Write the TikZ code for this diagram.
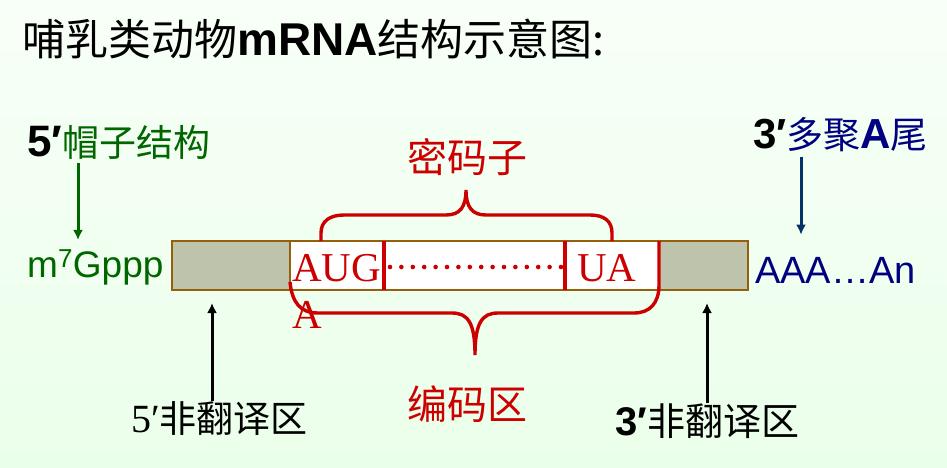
\documentclass[tikz,border=0pt]{standalone}
\usepackage{fontspec}
\setmainfont{Liberation Serif}
\setsansfont{Liberation Sans}
\newfontfamily\cjk{Noto Sans CJK SC}
\usetikzlibrary{arrows.meta, positioning, calc}
\definecolor{capgreen}{RGB}{0,102,0}
\definecolor{tailnavy}{RGB}{0,0,128}
\definecolor{tailarrow}{RGB}{0,51,102}
\definecolor{codred}{RGB}{204,0,0}
\definecolor{barbrown}{RGB}{150,95,10}
\definecolor{utrfill}{RGB}{190,196,172}
\definecolor{bgtop}{RGB}{248,255,248}
\definecolor{bgbottom}{RGB}{234,255,234}
\newcommand{\cnsize}[1]{\cjk\fontsize{#1}{#1}\selectfont}
\newcommand{\lasize}[1]{\fontsize{#1}{#1}\selectfont}

\begin{document}
\begin{tikzpicture}[x=1pt, y=-1pt,
    lbl/.style={inner sep=0pt, anchor=base west},
    barpart/.style={draw=barbrown, line width=2.5pt, minimum height=49pt,
                    inner sep=0pt, outer sep=0pt},
    brace/.style={draw=codred, line width=3.4pt},
    pointer/.style={line width=3pt, -{Latex[length=10pt, width=10pt]}}]
  % background
  \shade[top color=bgtop, bottom color=bgbottom] (0,0) rectangle (947,468);
  \useasboundingbox (0,0) rectangle (947,468);

  % title
  \node[lbl] (title) at (22,56)
    {\cnsize{43}哺乳类动物{\sffamily\bfseries\lasize{46}mRNA}结构示意图:};

  % mRNA bar
  \node[barpart, fill=utrfill, minimum width=118pt] (utr5) at (231,265.5) {};
  \node[barpart, fill=white, minimum width=369pt, right=0pt of utr5] (cds) {};
  \node[barpart, fill=utrfill, minimum width=89pt, right=0pt of cds] (utr3) {};

  % codon cuts
  \coordinate (startcut) at (384,0);
  \coordinate (stopcut) at (565,0);
  \draw[codred, line width=3.4pt] (cds.north -| startcut) -- (cds.south -| startcut);
  \draw[codred, line width=3.4pt] (cds.north -| stopcut) -- (cds.south -| stopcut);
  \draw[codred, line width=4.6pt, line cap=round, dash pattern=on 0pt off 11.4pt]
    (390,267) -- (562,267);

  \node[lbl, text=codred, font=\lasize{41}] (aug) at (292,281) {AUG};
  \node[lbl, text=codred, font=\lasize{41}] (ua) at (577,281) {UA};
  \node[lbl, text=codred, font=\lasize{41}] (augtail) at (292,328) {A};

  % braces
  \draw[brace] (321,241) -- (321,233) .. controls (321,221) and (330,215) .. (344,215)
    -- (446,215) .. controls (460,215) and (466,207) .. (466,190)
    .. controls (466,207) and (472,215) .. (486,215) -- (590,215)
    .. controls (604,215) and (612,221) .. (612,233) -- (612,241);
  \draw[brace] (290,282) .. controls (292,302) and (300,313) .. (318,313)
    -- (452,313) .. controls (468,313) and (475,323) .. (475,355)
    .. controls (475,323) and (482,313) .. (498,313) -- (634,313)
    .. controls (650,313) and (659,303) .. (659,285) -- (659,241);

  \node[lbl, anchor=base, text=codred, font=\cnsize{40}] (codon) at (467,172) {密码子};
  \node[lbl, anchor=base, text=codred, font=\cnsize{40}] (coding) at (467,419) {编码区};

  % 5' end
  \node[lbl, text=capgreen] (cap) at (27,157)
    {{\sffamily\bfseries\color{black}\lasize{44}5′}\cnsize{37}帽子结构};
  \node[lbl, text=capgreen, font=\sffamily\lasize{37}] (gppp) at (27,277)
    {m\textsuperscript{7}Gppp};
  \coordinate (capx) at (78,0);
  \draw[pointer, capgreen] ($(cap.south -| capx)+(0,3)$) -- ($(gppp.north -| capx)+(0,-10)$);

  % 3' end
  \node[lbl, text=tailnavy] (tail) at (753,148)
    {{\sffamily\bfseries\color{black}\lasize{42}3′}\cnsize{37}多聚{\sffamily\bfseries\lasize{42}A}尾};
  \node[lbl, text=tailnavy, font=\sffamily\lasize{38}] (polya) at (755,283) {AAA…An};
  \coordinate (tailx) at (801,0);
  \draw[pointer, tailarrow] ($(tail.south -| tailx)+(0,5)$) -- ($(polya.north -| tailx)+(0,-22)$);

  % UTR labels
  \node[lbl] (utr5lab) at (131,432) {{\lasize{40}5′}\cnsize{37}非翻译区};
  \node[lbl] (utr3lab) at (615,435) {{\sffamily\bfseries\lasize{40}3′}\cnsize{38}非翻译区};
  \coordinate (utr5x) at (212,0);
  \coordinate (utr3x) at (707,0);
  \draw[pointer] (utr5lab.north -| utr5x) -- ($(utr5.south -| utr5x)+(0,13)$);
  \draw[pointer] (utr3lab.north -| utr3x) -- ($(utr3.south -| utr3x)+(0,13)$);
\end{tikzpicture}
\end{document}
